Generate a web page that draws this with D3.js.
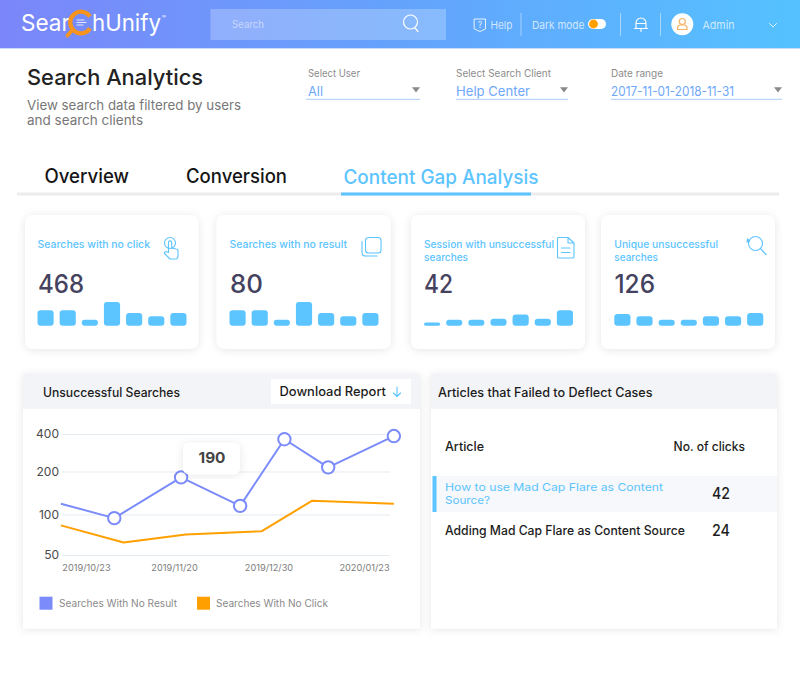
<!DOCTYPE html>
<html><head><meta charset="utf-8">
<script src="https://cdn.jsdelivr.net/npm/d3@7"></script>
<style>html,body{margin:0;padding:0;background:#fff}svg{display:block}text{font-family:Inter,"Open Sans",sans-serif}</style>
</head><body><div id="c"></div>
<script>
// ---------- data ----------
const cardTitles = [["Searches with no click"],["Searches with no result"],["Session with unsuccessful","searches"],["Unique unsuccessful","searches"]];
const cardNumbers = ["468","80","42","126"];
const cardBars1 = [65,65,25,99,53,40,53];
const cardBars2 = [65,65,25,99,53,40,53];
const cardBars3 = [14,25,25,29,47,29,65];
const cardBars4 = [49,40,25,25,40,40,53];
const tickDates = ["2019/10/23","2019/11/20","2019/12/30","2020/01/23"];
const yTicks = [50,100,200,400];
const noResultDates = ["2019/10/15","2019/11/01","2019/11/23","2019/12/18","2020/01/03","2020/01/14","2020/01/30 12"];
const noResultValues = [119,94,182,115,363,216,385];
const noClickDates = ["2019/10/15","2019/11/04","2019/11/25","2019/12/27","2020/01/10","2020/01/30 12"];
const noClickValues = [83,62,71,75,125,119];
const tooltipValue = "190";
const legendLabels = ["Searches With No Result","Searches With No Click"];
const articles = [["How to use Mad Cap Flare as Content","Source?"],["Adding Mad Cap Flare as Content Source"]];
const articleClicks = ["42","24"];

// ---------- helpers ----------
const BLUE="#5cc4ff", INDIGO="#7b8bf9", ORANGE="#ffa000";
const svg=d3.select("#c").append("svg").attr("width",800).attr("height",677);
const defs=svg.append("defs");
const g=defs.append("linearGradient").attr("id","hd").attr("x1",0).attr("x2",1).attr("y1",0).attr("y2",0);
g.append("stop").attr("offset",0).attr("stop-color","#7b86f9");
g.append("stop").attr("offset",.55).attr("stop-color","#62a6fd");
g.append("stop").attr("offset",1).attr("stop-color","#55c2ff");
const f=defs.append("filter").attr("id","sh").attr("x","-15%").attr("y","-15%").attr("width","130%").attr("height","130%");
f.append("feDropShadow").attr("dx",0).attr("dy",1).attr("stdDeviation",4).attr("flood-color","#000").attr("flood-opacity",.10);

function T(x0,x1,y,s,size,fill,weight,op){
  return svg.append("text").attr("x",x0).attr("y",y).text(s)
    .attr("font-size",size).attr("fill",fill).attr("font-weight",weight||400)
    .attr("fill-opacity",op==null?1:op)
    .attr("textLength",x1-x0).attr("lengthAdjust","spacingAndGlyphs");
}
function icon(d,stroke,w,fill){return svg.append("path").attr("d",d).attr("fill",fill||"none").attr("stroke",stroke).attr("stroke-width",w||1.2).attr("stroke-linecap","round").attr("stroke-linejoin","round");}

// ---------- top bar ----------
svg.append("rect").attr("width",800).attr("height",48).attr("fill","url(#hd)");
svg.append("rect").attr("y",48).attr("width",800).attr("height",1).attr("fill","#c9dcff");
T(21,70,31,"Sear",23,"#fff",400);
T(92,161,31,"hUnify",23,"#fff",400);
T(162,166,18,"®",4,"#fff",400);
svg.append("path").attr("d","M90 16.5 A10.8 10.8 0 1 0 90 28.5").attr("fill","none").attr("stroke","#f7941d").attr("stroke-width",4.2);
svg.append("path").attr("d","M71.5 31 L67.5 35.5").attr("stroke","#f7941d").attr("stroke-width",3.8).attr("stroke-linecap","round");
icon("M77 20H84M77 22.5H86M77 25H83","#fff",.8);
svg.append("rect").attr("x",210.5).attr("y",9).attr("width",235.5).attr("height",31).attr("fill","#fff").attr("fill-opacity",.24);
T(232,264,27.5,"Search",10,"#fff",400,.5);
svg.append("circle").attr("cx",410.5).attr("cy",22).attr("r",7).attr("fill","none").attr("stroke","#fff").attr("stroke-width",1.2);
icon("M415 28L418 31.5","#fff",1.2);
icon("M474.5 19H485.5V29L480 31.5L474.5 29Z","#e6f1ff",1);
T(478,482,28,"?",9,"#e6f1ff",400);
T(490.5,512.5,28.5,"Help",11,"#fff",400,.72);
[521,620.5,660.5].forEach(x=>svg.append("line").attr("x1",x).attr("x2",x).attr("y1",13).attr("y2",36).attr("stroke","#fff").attr("stroke-opacity",.45));
T(532,584.5,28.5,"Dark mode",11,"#fff",400,.72);
svg.append("rect").attr("x",588).attr("y",19).attr("width",18).attr("height",10).attr("rx",5).attr("fill","#fff");
svg.append("circle").attr("cx",593.5).attr("cy",24).attr("r",4.4).attr("fill",ORANGE);
icon("M636 28.5V23A5 5 0 0 1 646 23V28.5ZM634.5 28.5H647.5M636 23.5H646M641 28.5V31.5","#fff",1.1);
svg.append("circle").attr("cx",682.3).attr("cy",24.3).attr("r",11).attr("fill","#fff");
svg.append("circle").attr("cx",682.3).attr("cy",21.5).attr("r",3).attr("fill","none").attr("stroke","#f9b262").attr("stroke-width",1.2);
icon("M677.5 29.5V28A3 3 0 0 1 680.5 25H684A3 3 0 0 1 687 28V29.5Z","#f9b262",1.2);
T(702.5,734.5,28.5,"Admin",11,"#fff",400,.72);
icon("M769.5 23.5L773 27L776.5 23.5","#fff",1,"none").attr("stroke-opacity",.8);

// ---------- page heading and filters ----------
T(27,203,84.5,"Search Analytics",22,"#222",500);
T(27,241,110,"View search data filtered by users",13,"#777",400);
T(27,143,125,"and search clients",13,"#777",400);
[[306,420,308,360,323,"Select User","All"],
 [456,568,456,551,530,"Select Search Client","Help Center"],
 [611,782,611,663,734,"Date range","2017-11-01-2018-11-31"]].forEach(([a,b,x,x1,x2,l,v])=>{
  T(x,x1,77,l,10.5,"#8c8c8c",400);
  T(x,x2,96,v,13,"#6ea8fb",400);
  svg.append("line").attr("x1",a).attr("x2",b).attr("y1",99.3).attr("y2",99.3).attr("stroke","#a9cdfb");
  svg.append("path").attr("d",`M${b-8} 87.2H${b}L${b-4} 92.5Z`).attr("fill","#8a8a8a");
});

// ---------- tabs ----------
T(44.5,129,183,"Overview",19.5,"#151515",500);
T(186,287,183,"Conversion",19.5,"#151515",500);
T(343.5,538.5,183.5,"Content Gap Analysis",19.5,BLUE,500);
svg.append("rect").attr("x",17).attr("y",192.5).attr("width",762).attr("height",3).attr("fill","#ececec");
svg.append("rect").attr("x",341).attr("y",192.5).attr("width",190).attr("height",3).attr("fill",BLUE);

// ---------- KPI cards ----------
const cardBox=[[25,198.5],[216.7,390.7],[411,585],[601,775]];
const textX=[[37.5,38,84],[229.5,230,263],[424,424,453],[614.3,614.5,655]];
const titleW=[[150],[347],[554,468],[718,658]];
const barsAll=[cardBars1,cardBars2,cardBars3,cardBars4];
const hScale=d3.scaleLinear().domain([0,100]).range([0,24]);
cardBox.forEach(([a,b],i)=>{
  svg.append("rect").attr("x",a).attr("y",215).attr("width",b-a).attr("height",134).attr("rx",8).attr("fill","#fff").attr("filter","url(#sh)");
  const [tx,nx,nx1]=textX[i];
  cardTitles[i].forEach((l,j)=>T(tx,titleW[i][j],248+j*12.5,l,10,BLUE,500));
  T(nx,nx1,293,cardNumbers[i],25,"#45425f",500);
  const xb=d3.scaleBand().domain(d3.range(7)).range([tx,tx+149]).paddingInner(.27);
  svg.append("g").selectAll("rect").data(barsAll[i]).join("rect")
    .attr("x",(d,k)=>xb(k)).attr("width",xb.bandwidth())
    .attr("y",d=>325.8-hScale(d)).attr("height",d=>hScale(d))
    .attr("rx",d=>Math.min(3.2,hScale(d)/2)).attr("fill",BLUE);
});
// card icons
svg.append("circle").attr("cx",170).attr("cy",243).attr("r",5.5).attr("fill","none").attr("stroke",BLUE).attr("stroke-width",1.1);
icon("M168.5 252V242.5A1.6 1.6 0 0 1 171.7 242.5V248L176 249A2 2 0 0 1 178 251V256.5A2.5 2.5 0 0 1 175.5 259H170L164.5 253.5C164 252 166 251 168.5 252.5",BLUE,1.1);
svg.append("rect").attr("x",365.5).attr("y",237.5).attr("width",15.5).attr("height",15.5).attr("rx",3).attr("fill","none").attr("stroke",BLUE).attr("stroke-width",1.1);
icon("M362 241.5V252.5A3.5 3.5 0 0 0 365.5 256H377",BLUE,1.1);
icon("M558 237.5H568L574 243V257A1.5 1.5 0 0 1 572.5 258H559A1.5 1.5 0 0 1 557.5 257V239A1.5 1.5 0 0 1 558 237.5ZM568 237.5V243H574M561.5 248H570M561.5 252.5H570",BLUE,1.1);
svg.append("circle").attr("cx",755.5).attr("cy",243.5).attr("r",7).attr("fill","none").attr("stroke",BLUE).attr("stroke-width",1.1);
icon("M760.5 248.5L766 254.5",BLUE,1.2);
svg.append("path").attr("d","M747 238L750.5 241L746.5 243Z").attr("fill",BLUE);

// ---------- panels ----------
[[23,420],[431,777]].forEach(([a,b])=>{
  svg.append("rect").attr("x",a).attr("y",374).attr("width",b-a).attr("height",254.5).attr("fill","#fff").attr("filter","url(#sh)");
  svg.append("rect").attr("x",a).attr("y",374).attr("width",b-a).attr("height",35).attr("fill","#f3f4f8");
});
T(43,180,396.5,"Unsuccessful Searches",12.5,"#1c1c1c",500);
svg.append("rect").attr("x",271).attr("y",379).attr("width",140).attr("height",25).attr("fill","#fff");
T(279.5,386,396,"Download Report",12.5,"#1c1c1c",500);
icon("M397 387V396.5M393.5 393L397 396.5L400.5 393",BLUE,1.1);
T(438,652.5,396.5,"Articles that Failed to Deflect Cases",12.5,"#1c1c1c",500);

// ---------- line chart ----------
const pd=d3.timeParse("%Y/%m/%d"), pdh=d3.timeParse("%Y/%m/%d %H"), fd=d3.timeFormat("%Y/%m/%d");
const when=s=>pdh(s)||pd(s);
const x=d3.scaleTime().domain(tickDates.map(pd)).range([86,174,268.5,364]);
const y=d3.scaleLog().domain(yTicks).range([555,514.5,471.5,434]);
const gy=svg.append("g").attr("transform","translate(62,0)")
  .call(d3.axisLeft(y).tickValues(yTicks).tickFormat(d3.format("d")).tickSize(-328).tickPadding(3));
gy.select(".domain").remove();
gy.selectAll("line").attr("stroke","#e4ebf1");
gy.selectAll("text").attr("font-size",12).attr("fill","#4a4a4a").attr("font-family","Inter");
const gx=svg.append("g").attr("transform","translate(0,561)")
  .call(d3.axisBottom(x).tickValues(tickDates.map(pd)).tickFormat(fd).tickSize(0).tickPadding(3));
gx.select(".domain").remove();
gx.selectAll("text").attr("font-size",9.2).attr("fill","#7d7d7d").attr("font-family","Inter");

const line=d3.line().x(d=>x(d[0])).y(d=>y(d[1]));
const noClick=noClickDates.map((d,i)=>[when(d),noClickValues[i]]);
const noResult=noResultDates.map((d,i)=>[when(d),noResultValues[i]]);
svg.append("path").datum(noClick).attr("d",line).attr("fill","none").attr("stroke",ORANGE).attr("stroke-width",2).attr("stroke-linejoin","round");
svg.append("path").datum(noResult).attr("d",line).attr("fill","none").attr("stroke",INDIGO).attr("stroke-width",2).attr("stroke-linejoin","round");
svg.append("g").selectAll("circle").data(noResult.slice(1)).join("circle")
  .attr("cx",d=>x(d[0])).attr("cy",d=>y(d[1])).attr("r",6.2).attr("fill","#fff").attr("stroke",INDIGO).attr("stroke-width",2);
svg.append("rect").attr("x",183).attr("y",442.7).attr("width",57).attr("height",31.5).attr("rx",6).attr("fill","#fff").attr("filter","url(#sh)");
T(198.5,225.5,463,tooltipValue,15,"#444",700);

// legend
[[39.5,59,177,INDIGO],[197,216,328,ORANGE]].forEach(([sx,a,b,c],i)=>{
  svg.append("rect").attr("x",sx).attr("y",596.7).attr("width",13).attr("height",13).attr("fill",c);
  T(a,b,606.8,legendLabels[i],10,"#8a8a8a",400);
});

// ---------- table ----------
T(445,484,451,"Article",12.5,"#1c1c1c",500);
T(673.5,745,451,"No. of clicks",12.5,"#1c1c1c",500);
svg.append("rect").attr("x",433).attr("y",476).attr("width",344).attr("height",36).attr("fill","#f6f8fb");
svg.append("rect").attr("x",432.5).attr("y",476).attr("width",4).attr("height",36).attr("fill",BLUE);
T(445,663,491,articles[0][0],10.8,BLUE,400);
T(445,490,504.2,articles[0][1],10.8,BLUE,400);
T(445,685,534.5,articles[1][0],12.5,"#1c1c1c",500);
T(712,730,499,articleClicks[0],15.5,"#1c1c1c",500);
T(712,730,535.5,articleClicks[1],15.5,"#1c1c1c",500);
</script></body></html>
